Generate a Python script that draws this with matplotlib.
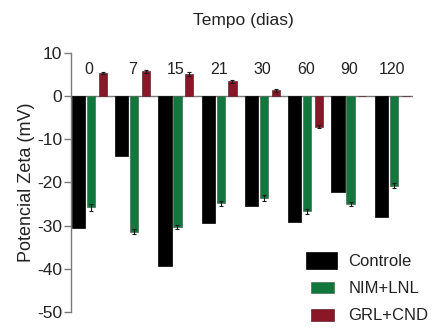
import numpy as np
import matplotlib
matplotlib.use("Agg")
import matplotlib.pyplot as plt
from matplotlib.patches import Rectangle
from matplotlib.legend_handler import HandlerPatch

plt.rcParams['font.family'] = ['Liberation Sans', 'DejaVu Sans']
plt.rcParams['axes.unicode_minus'] = False

# Zeta potential (mV) over storage time
days = ["0", "7", "15", "21", "30", "60", "90", "120"]
controle = [-30.5, -13.8, -39.5, -29.4, -25.4, -29.1, -22.2, -28.0]
nim_lnl = [-25.8, -31.4, -30.4, -24.8, -23.6, -26.7, -25.0, -20.7]
grl_cnd = [5.4, 5.8, 5.2, 3.5, 1.4, -7.0, 0.0, 0.0]
nim_err = [0.8, 0.6, 0.5, 0.6, 0.6, 0.6, 0.5, 0.6]
grl_err = [0.3, 0.4, 0.4, 0.3, 0.3, 0.3, 0.0, 0.0]

black = "#000000"
green = "#12773d"
red = "#8a1727"
grey = "#7a7a7a"

fig = plt.figure(figsize=(4.32, 3.36), dpi=100)
ax = fig.add_axes([0.1637, 0.0723, 0.7913, 0.7691])

x = np.arange(len(days))
b1 = ax.bar(x - 0.25, controle, width=0.307, color=black, edgecolor=black,
            linewidth=0.5, label="Controle", zorder=2)
b2 = ax.bar(x + 0.038, nim_lnl, width=0.19, color=green, edgecolor="#4a6a55",
            linewidth=0.5, label="NIM+LNL", zorder=2)
b3 = ax.bar(x + 0.31, grl_cnd, width=0.19, color=red, edgecolor="#5a2a30",
            linewidth=0.5, label="GRL+CND", zorder=2)

ax.errorbar(x + 0.038, nim_lnl, yerr=nim_err, fmt="none", ecolor="#1a1a1a",
            elinewidth=0.8, capsize=1.5, capthick=0.8, zorder=3)
mask = np.array(grl_cnd) != 0
ax.errorbar((x + 0.31)[mask], np.array(grl_cnd)[mask], yerr=np.array(grl_err)[mask],
            fmt="none", ecolor="#1a1a1a", elinewidth=0.8, capsize=1.5,
            capthick=0.8, zorder=3)

ax.axhline(0, color=grey, linewidth=1.0, zorder=1)

for xi, d in zip(x, days):
    ax.text(xi, 5.3, d, ha="center", va="baseline", fontsize=11.5, color="#222222")

ax.set_xlim(-0.427, 7.47)
ax.set_ylim(-50, 10)
ax.set_yticks([10, 0, -10, -20, -30, -40, -50])
ax.set_xticks([])
for s in ("top", "right", "bottom"):
    ax.spines[s].set_visible(False)
ax.spines["left"].set_color(grey)
ax.spines["left"].set_linewidth(1.0)
ax.tick_params(axis="y", direction="out", length=5, width=1.0, color=grey,
               labelsize=12.5, labelcolor="#222222", pad=1)
ax.set_ylabel("Potencial Zeta (mV)", fontsize=13, color="#222222")
ax.yaxis.set_label_coords(-0.105, 0.5)

fig.text(0.563, 0.94, "Tempo (dias)", ha="center", va="center",
         fontsize=12.5, color="#222222")


def make_patch(legend, orig_handle, xdescent, ydescent, width, height, fontsize):
    fc = orig_handle.get_facecolor()
    if tuple(fc[:3]) == (0.0, 0.0, 0.0):
        return Rectangle((-xdescent, -ydescent), width, height)
    return Rectangle((-xdescent + 0.16 * width, -ydescent + 0.15 * height),
                     width * 0.74, height * 0.7)


handles = [b1.patches[0], b2.patches[0], b3.patches[0]]
leg = fig.legend(handles, ["Controle", "NIM+LNL", "GRL+CND"],
                 loc="lower left", bbox_to_anchor=(0.69, 0.013),
                 frameon=False, fontsize=12, borderpad=0, handlelength=1.86,
                 handleheight=1.2, handletextpad=0.66, labelspacing=0.6,
                 handler_map={h: HandlerPatch(patch_func=make_patch) for h in handles})
for t in leg.get_texts():
    t.set_color("#222222")

fig.savefig("out.png", dpi=100, facecolor="white")
